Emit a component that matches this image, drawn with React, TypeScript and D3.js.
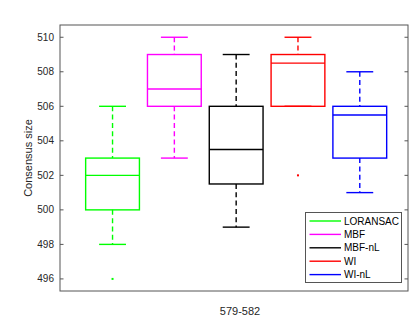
import React from 'react';
import * as d3 from 'd3';

// data
const methods = ['LORANSAC', 'MBF', 'MBF-nL', 'WI', 'WI-nL'];
const colors = ['#00ff00', '#ff00ff', '#000000', '#ff0000', '#0000ff'];
const whiskerLow = [498, 503, 499, 506, 501];
const q1 = [500, 506, 501.5, 506, 503];
const median = [502, 507, 503.5, 508.5, 505.5];
const q3 = [503, 509, 506, 509, 506];
const whiskerHigh = [506, 510, 509, 510, 508];
const outliers = [[496], [], [], [502], []];
const yTicks = [496, 498, 500, 502, 504, 506, 508, 510];

const W = 415;
const H = 320;
const m = { left: 60, right: 408, top: 25, bottom: 291 };

const App = () => {
  const x = d3.scaleLinear().domain([0.15, 5.78]).range([m.left, m.right]);
  const y = d3.scaleLinear().domain([495.3, 510.71]).range([m.bottom, m.top]);
  const boxW = x(1.87) - x(1);
  const capW = boxW / 2;
  const axisColor = '#555';
  const font = 'Liberation Sans, Arial, sans-serif';

  return (
    <svg width={W} height={H} style={{ position: 'absolute', left: 0, top: 0, background: '#fff' }}>
      <rect x={m.left} y={m.top} width={m.right - m.left} height={m.bottom - m.top}
        fill="none" stroke={axisColor} strokeWidth={1} />
      {yTicks.map(t => (
        <g key={t}>
          <line x1={m.left} x2={m.left + 3.5} y1={y(t)} y2={y(t)} stroke={axisColor} />
          <line x1={m.right - 3.5} x2={m.right} y1={y(t)} y2={y(t)} stroke={axisColor} />
          <text x={m.left - 6} y={y(t)} dy="0.35em" textAnchor="end" fontSize={10}
            fontFamily={font} fill="#262626">{t}</text>
        </g>
      ))}
      {methods.map((name, i) => {
        const cx = x(i + 1);
        const c = colors[i];
        return (
          <g key={name} stroke={c} fill="none" strokeWidth={1.4}>
            <line x1={cx} x2={cx} y1={y(whiskerHigh[i])} y2={y(q3[i])} strokeDasharray="5,3.3" />
            <line x1={cx} x2={cx} y1={y(q1[i])} y2={y(whiskerLow[i])} strokeDasharray="5,3.3" />
            <line x1={cx - capW / 2} x2={cx + capW / 2} y1={y(whiskerHigh[i])} y2={y(whiskerHigh[i])} />
            <line x1={cx - capW / 2} x2={cx + capW / 2} y1={y(whiskerLow[i])} y2={y(whiskerLow[i])} />
            <rect x={cx - boxW / 2} y={y(q3[i])} width={boxW} height={y(q1[i]) - y(q3[i])} />
            <line x1={cx - boxW / 2} x2={cx + boxW / 2} y1={y(median[i])} y2={y(median[i])} />
            {outliers[i].map((o, j) => (
              <rect key={j} x={cx - 1} y={y(o) - 1} width={2} height={2} fill={c} stroke="none" />
            ))}
          </g>
        );
      })}
      <text transform={`translate(32,${(m.top + m.bottom) / 2}) rotate(-90)`} textAnchor="middle"
        fontSize={11} fontFamily={font} fill="#262626">Consensus size</text>
      <text x={(m.left + m.right) / 2 + 6} y={315} textAnchor="middle" fontSize={11}
        fontFamily={font} fill="#262626">579-582</text>
      <g>
        <rect x={305.5} y={212.5} width={96} height={70} fill="#fff" stroke={axisColor} />
        {methods.map((name, i) => {
          const ly = 221 + i * 13.4;
          return (
            <g key={name}>
              <line x1={309.5} x2={341} y1={ly} y2={ly} stroke={colors[i]} strokeWidth={1.4} />
              <text x={344} y={ly} dy="0.35em" fontSize={10} fontFamily={font} fill="#000">{name}</text>
            </g>
          );
        })}
      </g>
    </svg>
  );
};

export default App;
